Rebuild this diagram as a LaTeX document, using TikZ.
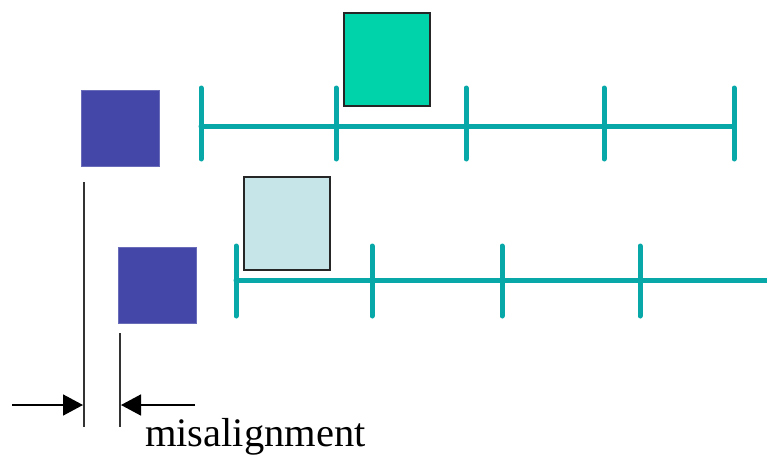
\documentclass[tikz,border=0pt]{standalone}
\usepackage{fontspec}
\setmainfont{Liberation Serif}
\usetikzlibrary{arrows.meta}
\definecolor{msblue}{HTML}{4447A8}
\definecolor{msteal}{HTML}{08A8A8}
\definecolor{msgreen}{HTML}{00D2AA}
\definecolor{mslight}{HTML}{C5E5E8}

\begin{document}
\begin{tikzpicture}[
  x=1pt, y=-1pt,
  die/.style={rectangle, fill=msblue, draw=msblue!80, line width=1pt, minimum width=78pt, minimum height=76pt, inner sep=0pt},
  field/.style={rectangle, fill=#1, draw=black!85, line width=2pt, minimum width=86pt, minimum height=93pt, inner sep=0pt},
  track/.style={msteal, line width=5pt, line cap=round},
  guide/.style={black!80, line width=1.6pt},
  dim/.style={black, line width=1.6pt, -{Triangle[length=20pt, width=21pt]}},
]
\useasboundingbox (0,0) rectangle (767,460);

% upper layer
\coordinate (a0) at (201,126);
\coordinate (a4) at (734,126);
\draw[track] (a0) -- (a4);
\foreach \x in {201,336,466,604,734}
  \draw[track] (\x,88) -- (\x,159);
\node[die] (dieA) at (120,128) {};
\node[field=msgreen] (boxA) at (387,59.5) {};

% lower layer
\coordinate (b0) at (236,280);
\coordinate (b4) at (770,280);
\draw[track] (b0) -- (b4);
\foreach \x in {236,372,502,640}
  \draw[track] (\x,246) -- (\x,316);
\node[die] (dieB) at (157.5,285.5) {};
\node[field=mslight] (boxB) at (287,223.5) {};

% offset dimension
\coordinate (gA) at (84,182);
\coordinate (gA') at (84,427);
\coordinate (gB) at (120,333);
\coordinate (gB') at (120,427);
\draw[guide] (gA) -- (gA');
\draw[guide] (gB) -- (gB');
\coordinate (pA) at (12,405);
\coordinate (pB) at (195,405);
\draw[dim] (pA) -- (83,405);
\draw[dim] (pB) -- (121,405);
\node[anchor=base west, inner sep=0pt, font=\fontsize{40.5}{48}\selectfont] (lbl) at (145,446) {misalignment};

\end{tikzpicture}
\end{document}
